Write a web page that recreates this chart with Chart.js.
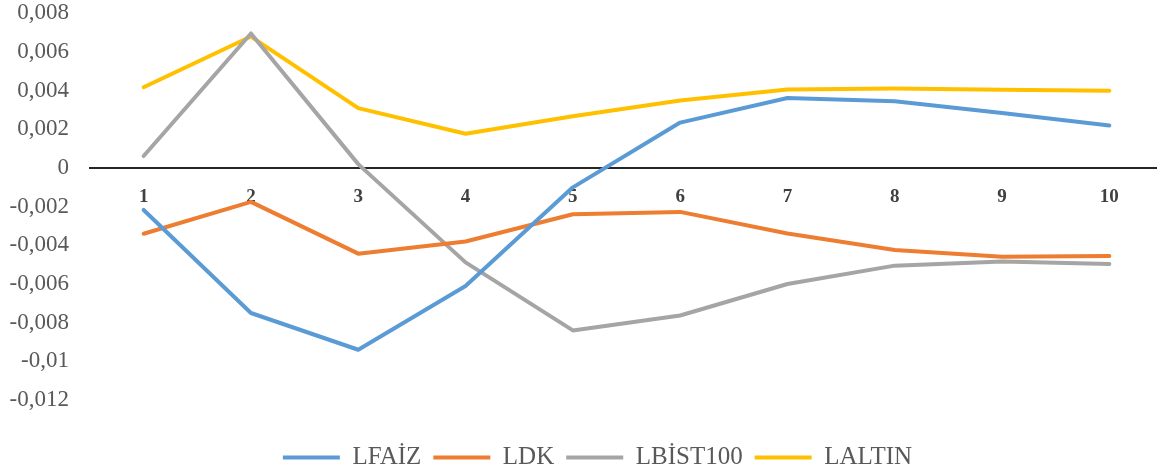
<!DOCTYPE html>
<html>
<head>
<meta charset="utf-8">
<script src="https://cdn.jsdelivr.net/npm/chart.js@4"></script>
<style>
  html, body { margin: 0; padding: 0; background: #fff; overflow: hidden; }
  #wrap { width: 1163px; height: 480px; }
</style>
</head>
<body>
<div id="wrap"><canvas id="lagChart"></canvas></div>
<script>
const periods = ["1", "2", "3", "4", "5", "6", "7", "8", "9", "10"];

const lfaiz = [-0.00217, -0.0075, -0.0094, -0.0061, -0.00100, 0.00235, 0.00362, 0.00345, 0.00285, 0.0022];
const ldk = [-0.0034, -0.00175, -0.00443, -0.0038, -0.00239, -0.00227, -0.00339, -0.00424, -0.00459, -0.00455];
const lbist100 = [0.00062, 0.00696, 0.0002, -0.00488, -0.0084, -0.00763, -0.006, -0.00505, -0.00483, -0.00496];
const laltin = [0.00418, 0.0068, 0.0031, 0.00177, 0.00268, 0.00349, 0.00406, 0.00411, 0.00405, 0.004];

const yMin = -0.012;
const yMax = 0.008;
const yStep = 0.002;

function lineSet(label, data, color) {
    return {
        label: label,
        data: data,
        borderColor: color,
        backgroundColor: color,
        borderWidth: 4,
        borderCapStyle: "round",
        borderJoinStyle: "round",
        pointRadius: 0,
        pointHoverRadius: 0,
        tension: 0,
        fill: false
    };
}

const serif = "'Liberation Serif', 'Times New Roman', serif";

// nudge the legend a bit to the right, like the original
const legendShift = {
    id: "legendShift",
    afterLayout(chart) {
        chart.legend.left += 32;
    }
};

const lagChart = new Chart(document.getElementById("lagChart"), {
    type: "line",

    data: {
        labels: periods,
        datasets: [
            lineSet("LFAİZ", lfaiz, "#5B9BD5"),
            lineSet("LDK", ldk, "#ED7D31"),
            lineSet("LBİST100", lbist100, "#A5A5A5"),
            lineSet("LALTIN", laltin, "#FFC000")
        ]
    },

    plugins: [legendShift],

    options: {
        responsive: true,
        maintainAspectRatio: false,
        animation: false,

        layout: {
            padding: { top: 0, right: 0, bottom: 0, left: 0 }
        },

        plugins: {
            tooltip: { enabled: false },
            legend: {
                position: "bottom",
                title: {
                    display: true,
                    text: "",
                    font: { size: 1 },
                    padding: { top: 0, bottom: 31.8 }
                },
                labels: {
                    usePointStyle: true,
                    pointStyle: "line",
                    pointStyleWidth: 57,
                    boxHeight: 4,
                    padding: 12,
                    color: "#595959",
                    font: { family: serif, size: 25 }
                }
            }
        },

        scales: {
            x: {
                position: { y: 0 },
                offset: true,
                grid: { display: false, drawTicks: false },
                border: { display: true, color: "#262626", width: 2 },
                ticks: {
                    padding: 18,
                    color: "#404040",
                    font: { family: serif, size: 19, weight: "bold" }
                }
            },

            y: {
                min: yMin,
                max: yMax,
                afterFit: function (scale) { scale.width = 90; },
                grid: { display: false, drawTicks: true, tickLength: 18 },
                border: { display: false },
                ticks: {
                    stepSize: yStep,
                    padding: 3,
                    color: "#595959",
                    font: { family: serif, size: 23, lineHeight: 0.9 },
                    callback: function (v) {
                        return String(Number(v.toFixed(3))).replace(".", ",");
                    }
                }
            }
        }
    }
});
</script>
</body>
</html>
